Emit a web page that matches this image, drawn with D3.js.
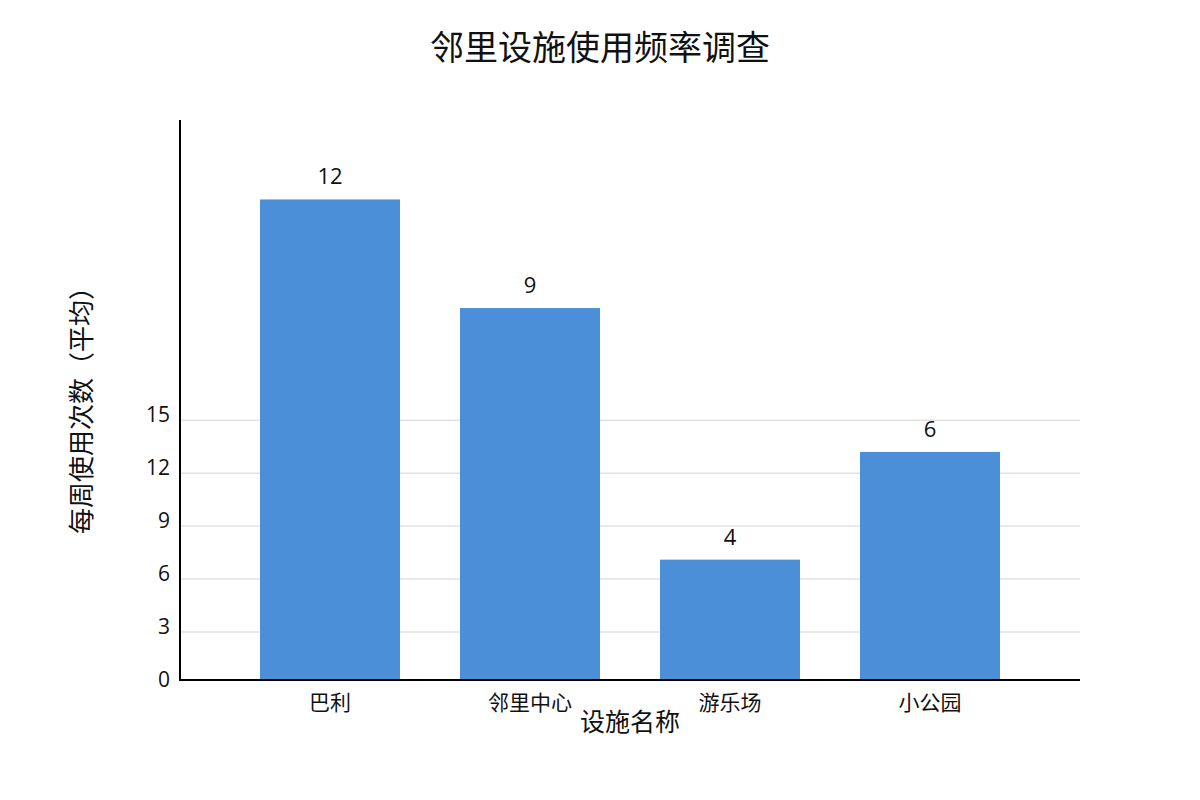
<!DOCTYPE html>
<html>
<head>
<meta charset="utf-8">
<script src="https://cdn.jsdelivr.net/npm/d3@7"></script>
<style>
  body { margin: 0; background: #fff; }
  text { font-family: "Open Sans", "Noto Sans CJK SC", sans-serif; fill: #111; }
</style>
</head>
<body>
<div class="chart"></div>
<script>
/* chart data */
const facilities = ["巴利", "邻里中心", "游乐场", "小公园"];
const barHeights = [27.5, 21.35, 7.1, 13.2];   // bar length on the y scale
const barLabels = [12, 9, 4, 6];               // numbers printed above the bars
const yTicks = [0, 3, 6, 9, 12, 15];

const chartTitle = "邻里设施使用频率调查";
const xTitle = "设施名称";
const yTitle = "每周使用次数（平均）";

/* dimensions */
const margin = {top: 120, right: 120, bottom: 120, left: 180};
const width = 1200 - margin.left - margin.right;
const height = 800 - margin.top - margin.bottom;

const svg = d3.select(".chart")
  .append("svg")
  .attr("width", 1200)
  .attr("height", 800);

const g = svg.append("g")
  .attr("transform", `translate(${margin.left},${margin.top})`);

/* scales */
const xScale = d3.scaleBand()
  .domain(facilities)
  .range([0, width])
  .paddingInner(0.3)
  .paddingOuter(0.4);

const yScale = d3.scaleLinear()
  .domain([0, 32])
  .range([height + 5, 0]);

/* gridlines */
g.append("g")
  .selectAll("line")
  .data(yTicks.filter(d => d > 0))
  .enter()
  .append("line")
  .attr("x1", 0)
  .attr("x2", width)
  .attr("y1", d => yScale(d))
  .attr("y2", d => yScale(d))
  .style("stroke", "#e2e2e2")
  .style("stroke-width", 1.5);

/* bars */
g.selectAll("rect")
  .data(facilities)
  .enter()
  .append("rect")
  .attr("x", d => xScale(d))
  .attr("y", (d, i) => yScale(barHeights[i]))
  .attr("width", xScale.bandwidth())
  .attr("height", (d, i) => height - yScale(barHeights[i]))
  .style("fill", "#4a8fd7");

/* value labels */
g.selectAll(".value")
  .data(facilities)
  .enter()
  .append("text")
  .attr("class", "value")
  .attr("x", d => xScale(d) + xScale.bandwidth() / 2)
  .attr("y", (d, i) => yScale(barHeights[i]) - 15)
  .attr("text-anchor", "middle")
  .style("font-size", "22px")
  .text((d, i) => barLabels[i]);

/* y axis: labels only */
const yAxis = d3.axisLeft(yScale)
  .tickValues(yTicks)
  .tickSize(0)
  .tickPadding(10);

const yAxisG = g.append("g")
  .attr("class", "axis y-axis")
  .call(yAxis);
yAxisG.select(".domain").remove();
yAxisG.selectAll("text")
  .attr("dy", "0.35em")
  .attr("y", -6)
  .style("font-size", "21px")
  .style("font-family", "'Open Sans', sans-serif")
  .style("fill", "#111");

/* x axis */
const xAxis = d3.axisBottom(xScale)
  .tickSize(0)
  .tickPadding(15);

const xAxisG = g.append("g")
  .attr("class", "axis x-axis")
  .attr("transform", `translate(0,${height})`)
  .call(xAxis);
xAxisG.select(".domain").remove();
xAxisG.selectAll("text")
  .style("font-size", "21px")
  .style("font-family", "'Noto Sans CJK SC', sans-serif")
  .style("fill", "#111");

/* axis lines */
g.append("line")
  .attr("x1", 0).attr("x2", 0)
  .attr("y1", 0).attr("y2", height)
  .style("stroke", "#000")
  .style("stroke-width", 2);

g.append("line")
  .attr("x1", -1).attr("x2", width)
  .attr("y1", height).attr("y2", height)
  .style("stroke", "#000")
  .style("stroke-width", 2);

/* titles */
svg.append("text")
  .attr("x", 600)
  .attr("y", 60)
  .attr("text-anchor", "middle")
  .style("font-size", "34px")
  .style("font-family", "'Noto Sans CJK SC', sans-serif")
  .text(chartTitle);

svg.append("text")
  .attr("x", margin.left + width / 2)
  .attr("y", 731)
  .attr("text-anchor", "middle")
  .style("font-size", "25px")
  .style("font-family", "'Noto Sans CJK SC', sans-serif")
  .text(xTitle);

svg.append("text")
  .attr("transform", `translate(91, ${margin.top + height / 2 + 4}) rotate(-90)`)
  .attr("text-anchor", "middle")
  .style("font-size", "26px")
  .style("font-family", "'Noto Sans CJK SC', sans-serif")
  .text(yTitle);
</script>
</body>
</html>
